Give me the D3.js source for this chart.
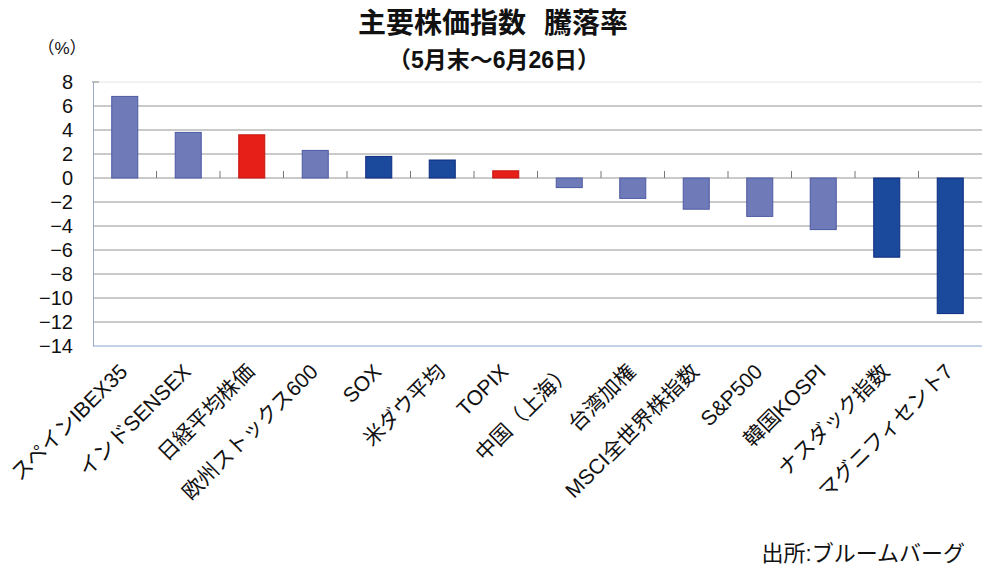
<!DOCTYPE html>
<html>
<head>
<meta charset="utf-8">
<script src="https://cdn.jsdelivr.net/npm/d3@7"></script>
<style>
  body { margin: 0; background: #fff; }
  svg text { font-family: "Liberation Sans", "Noto Sans CJK JP", sans-serif; fill: #111; }
</style>
</head>
<body>
<div class="canvas"></div>
<script>
// chart data
const categories = ['スペインIBEX35', 'インドSENSEX', '日経平均株価', '欧州ストックス600', 'SOX', '米ダウ平均',
  'TOPIX', '中国（上海）', '台湾加権', 'MSCI全世界株指数', 'S&P500', '韓国KOSPI', 'ナスダック指数', 'マグニフィセント7'];
const values = [6.8, 3.8, 3.6, 2.3, 1.8, 1.5, 0.6, -0.8, -1.7, -2.6, -3.2, -4.3, -6.6, -11.3];
const groups = ['other', 'other', 'japan', 'other', 'us', 'us', 'japan', 'other', 'other', 'other', 'other', 'other', 'us', 'us'];
const yTicks = [8, 6, 4, 2, 0, -2, -4, -6, -8, -10, -12, -14];

const titleParts = ['主要株価指数', '騰落率'];
const subtitleText = '（5月末～6月26日）';
const unitText = '（%）';
const sourceText = '出所:ブルームバーグ';

const width = 1000, height = 571;
const margin = {top: 82, right: 18, bottom: 225, left: 93};
const graphWidth = width - margin.left - margin.right;
const graphHeight = height - margin.top - margin.bottom;

const svg = d3.select('.canvas')
  .append('svg')
    .attr('width', width)
    .attr('height', height);

const graph = svg.append('g')
  .attr('transform', `translate(${margin.left}, ${margin.top})`);

// scales
const x = d3.scaleBand()
  .domain(categories)
  .range([0, graphWidth])
  .paddingInner(0.59)
  .paddingOuter(0.295);

const y = d3.scaleLinear()
  .domain([d3.min(yTicks), d3.max(yTicks)])
  .range([graphHeight, 0]);

const fill = d3.scaleOrdinal()
  .domain(['other', 'japan', 'us'])
  .range(['#6f7ab8', '#e62019', '#1b4a9c']);
const stroke = d3.scaleOrdinal()
  .domain(['other', 'japan', 'us'])
  .range(['#4d5aa4', '#c51510', '#0e2b80']);

// top border of plot
graph.append('line')
  .attr('x1', 0).attr('x2', graphWidth)
  .attr('y1', 0).attr('y2', 0)
  .attr('stroke', '#e4e4e4');

// gridlines
graph.append('g')
  .selectAll('line')
  .data(yTicks.filter(d => d !== d3.min(yTicks) && d !== d3.max(yTicks)))
  .join('line')
    .attr('x1', 0).attr('x2', graphWidth)
    .attr('y1', d => y(d)).attr('y2', d => y(d))
    .attr('stroke', '#959595')
    .attr('stroke-width', 1);

// bottom border (light blue)
graph.append('line')
  .attr('x1', 0).attr('x2', graphWidth)
  .attr('y1', graphHeight).attr('y2', graphHeight)
  .attr('stroke', '#c3d4ea')
  .attr('stroke-width', 2);

// bars
graph.selectAll('rect')
  .data(values)
  .join('rect')
    .attr('x', (d, i) => x(categories[i]))
    .attr('width', x.bandwidth())
    .attr('y', d => y(Math.max(0, d)))
    .attr('height', d => Math.abs(y(d) - y(0)))
    .attr('fill', (d, i) => fill(groups[i]))
    .attr('stroke', (d, i) => stroke(groups[i]))
    .attr('stroke-width', 1);

// category separator ticks on the zero line
graph.append('g')
  .selectAll('line')
  .data(categories.slice(1))
  .join('line')
    .attr('x1', d => x(d) - x.step() * x.paddingOuter())
    .attr('x2', d => x(d) - x.step() * x.paddingOuter())
    .attr('y1', y(0) - 7).attr('y2', y(0))
    .attr('stroke', '#777');

// left axis
const yAxis = d3.axisLeft(y)
  .tickValues(yTicks)
  .tickSize(0)
  .tickPadding(20)
  .tickFormat(d3.format('d'));

const yAxisGroup = graph.append('g').call(yAxis);
yAxisGroup.select('.domain').attr('stroke', '#9aa8c4');
yAxisGroup.selectAll('text')
  .attr('font-size', 20)
  .attr('font-family', '"Liberation Sans", sans-serif');

// small tick at top of y axis
graph.append('line')
  .attr('x1', -1).attr('x2', 6)
  .attr('y1', 0).attr('y2', 0)
  .attr('stroke', '#888');

// rotated category labels
graph.append('g')
  .selectAll('text')
  .data(categories)
  .join('text')
    .attr('transform', d => `translate(${x(d) + x.bandwidth() / 2 + 4}, ${graphHeight + 27}) rotate(-45)`)
    .attr('text-anchor', 'end')
    .attr('font-size', 21)
    .text(d => d);

// titles (gap between the two parts)
const title = svg.append('text')
  .attr('x', 493).attr('y', 33)
  .attr('text-anchor', 'middle')
  .attr('font-size', 28)
  .attr('font-weight', 700);
title.append('tspan').text(titleParts[0]);
title.append('tspan').attr('dx', 18).text(titleParts[1]);

svg.append('text')
  .attr('x', 494).attr('y', 68)
  .attr('text-anchor', 'middle')
  .attr('font-size', 23)
  .attr('font-weight', 700)
  .text(subtitleText);

svg.append('text')
  .attr('x', 62).attr('y', 54)
  .attr('text-anchor', 'middle')
  .attr('font-size', 17)
  .text(unitText);

svg.append('text')
  .attr('x', 965).attr('y', 561)
  .attr('text-anchor', 'end')
  .attr('font-size', 22)
  .text(sourceText);
</script>
</body>
</html>
